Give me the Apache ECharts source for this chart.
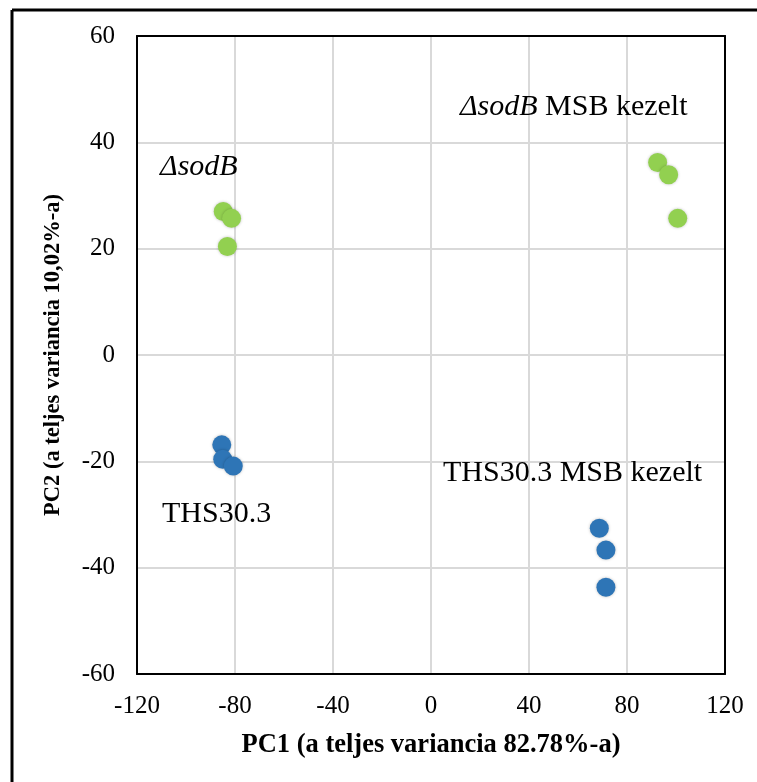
<!DOCTYPE html>
<html><head><meta charset="utf-8">
<script src="https://cdn.jsdelivr.net/npm/echarts@6/dist/echarts.min.js"></script>
<style>html,body{margin:0;padding:0;background:#fff}#c{width:757px;height:782px}</style>
</head><body><div id="c"></div>
<script>
const sodB = [[-84.8, 27.0], [-81.4, 25.7], [-83.1, 20.4]];
const sodBMSB = [[92.5, 36.2], [97.0, 33.9], [100.7, 25.7]];
const ths = [[-85.4, -16.9], [-85.0, -19.6], [-80.7, -20.9]];
const thsMSB = [[68.7, -32.6], [71.4, -36.7], [71.4, -43.7]];
const xTicks = [-120, -80, -40, 0, 40, 80, 120];
const yTicks = [-60, -40, -20, 0, 20, 40, 60];
const groupLabels = [
  {name: 'ΔsodB', italic: 'ΔsodB', rest: '', pos: [-110.6, 35.4]},
  {name: 'ΔsodB MSB kezelt', italic: 'ΔsodB', rest: ' MSB kezelt', pos: [11.8, 46.6]},
  {name: 'THS30.3', italic: '', rest: 'THS30.3', pos: [-109.8, -29.9]},
  {name: 'THS30.3 MSB kezelt', italic: '', rest: 'THS30.3 MSB kezelt', pos: [4.9, -22.2]}
];
const xTitle = 'PC1 (a teljes variancia 82.78%-a)';
const yTitle = 'PC2 (a teljes variancia 10,02%-a)';

const FONT = '"Liberation Serif","Times New Roman",serif';
const GREEN = '#92D050', BLUE = '#2E75B6';
const chart = echarts.init(document.getElementById('c'), null, {renderer: 'canvas'});
function pts(arr, color) {
  return {
    type: 'scatter', data: arr, symbolSize: 19,
    itemStyle: {color: color, opacity: 1, shadowBlur: 3, shadowColor: 'rgba(0,0,0,0.25)'},
    silent: true, z: 3
  };
}
const boxLine = {show: true, onZero: false, lineStyle: {color: '#000', width: 2}};
chart.setOption({
  animation: false,
  graphic: [
    {type: 'line', shape: {x1: 12, y1: 10, x2: 757, y2: 10}, style: {stroke: '#000', lineWidth: 3}},
    {type: 'line', shape: {x1: 12, y1: 10, x2: 12, y2: 782}, style: {stroke: '#000', lineWidth: 3}}
  ],
  grid: {left: 137, right: 32, top: 36, bottom: 108, containLabel: false},
  xAxis: [{
    type: 'value', min: xTicks[0], max: xTicks[xTicks.length - 1], interval: 40,
    name: xTitle, nameLocation: 'middle', nameGap: 58,
    nameTextStyle: {fontFamily: FONT, fontWeight: 'bold', fontSize: 26.5, color: '#000'},
    axisLine: boxLine, axisTick: {show: false},
    axisLabel: {fontFamily: FONT, fontSize: 25, color: '#000', margin: 20},
    splitLine: {lineStyle: {color: '#d9d9d9', width: 2}}
  }, {
    type: 'value', position: 'top', min: xTicks[0], max: xTicks[xTicks.length - 1], interval: 40,
    axisLine: boxLine, axisTick: {show: false}, axisLabel: {show: false}, splitLine: {show: false}
  }],
  yAxis: [{
    type: 'value', min: yTicks[0], max: yTicks[yTicks.length - 1], interval: 20,
    name: yTitle, nameLocation: 'middle', nameGap: 72,
    nameTextStyle: {fontFamily: FONT, fontWeight: 'bold', fontSize: 22.5, color: '#000'},
    axisLine: boxLine, axisTick: {show: false},
    axisLabel: {fontFamily: FONT, fontSize: 25, color: '#000', margin: 22},
    splitLine: {lineStyle: {color: '#d9d9d9', width: 2}}
  }, {
    type: 'value', position: 'right', min: yTicks[0], max: yTicks[yTicks.length - 1], interval: 20,
    axisLine: boxLine, axisTick: {show: false}, axisLabel: {show: false}, splitLine: {show: false}
  }],
  series: [
    pts(sodB, GREEN), pts(sodBMSB, GREEN), pts(ths, BLUE), pts(thsMSB, BLUE),
    {
      type: 'scatter', symbolSize: 0, silent: true, z: 5,
      itemStyle: {opacity: 1},
      data: groupLabels.map(g => ({value: g.pos, name: g.name})),
      label: {
        show: true, position: 'right', distance: 0, color: '#000', opacity: 1,
        formatter: p => {
          const d = groupLabels[p.dataIndex];
          let s = '';
          if (d.italic) s += '{i|' + d.italic + '}';
          if (d.rest) s += '{n|' + d.rest + '}';
          return s;
        },
        rich: {
          i: {fontFamily: FONT, fontStyle: 'italic', fontSize: 30, color: '#000'},
          n: {fontFamily: FONT, fontSize: 30, color: '#000'}
        }
      }
    }
  ]
});
</script></body></html>
